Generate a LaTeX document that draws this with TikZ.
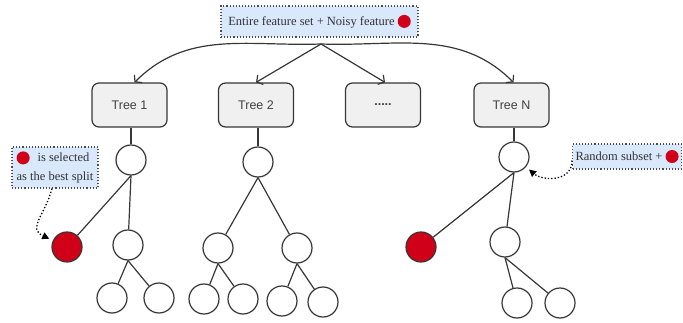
\documentclass[tikz,border=0pt]{standalone}
\usepackage{fontspec}
\setmainfont{Liberation Serif}
\newfontfamily\treefont{Liberation Sans}
\usetikzlibrary{arrows.meta}

\definecolor{dotred}{RGB}{208,0,24}
\definecolor{notefill}{RGB}{218,232,252}
\definecolor{boxfill}{RGB}{240,240,240}
\definecolor{linegray}{RGB}{55,55,55}

\newcommand{\rdot}{\tikz[baseline={(0,-4pt)}]\fill[dotred] (0,0) circle (6.5pt);}

\begin{document}
\begin{tikzpicture}[
  x=1pt, y=1pt,
  font=\fontsize{12.5}{19}\selectfont,
  note/.style={rectangle, draw=black!70, dotted, line width=1.1pt, fill=notefill, inner sep=3pt, text=black!80},
  treebox/.style={rectangle, draw=linegray, line width=1.2pt, rounded corners=7pt, fill=boxfill, minimum width=75pt, minimum height=44pt, font=\treefont\fontsize{12.5}{14}\selectfont, text=black!75},
  leaf/.style={circle, draw=linegray, line width=1.2pt, fill=white, minimum size=30pt, inner sep=0pt},
  best/.style={leaf, fill=dotred},
  edge/.style={draw=linegray, line width=1.2pt},
  arr/.style={edge, -{Straight Barb[length=4.5pt, width=11pt]}},
  darr/.style={black, dotted, line width=1.3pt, -{Triangle[length=7pt, width=7pt]}, shorten >=4pt}
]
  \useasboundingbox (0,0) rectangle (683,322);
  \clip (0,0) rectangle (683,322);

  % feature set and trees
  \node[note, minimum width=197pt, minimum height=31pt] (feat) at (319.5,300.5) {Entire feature set + Noisy feature \rdot};
  \coordinate (fork) at (321,278);
  \node[treebox] (tree1) at (129.5,217) {Tree 1};
  \node[treebox] (tree2) at (256,217) {Tree 2};
  \node[treebox] (treedots) at (383,217) {\textbf{.....}};
  \node[treebox] (treeN) at (511.5,217) {Tree N};
  \draw[arr] (fork) to[out=182, in=45] ([xshift=5pt]tree1.north);
  \draw[arr] (fork) -- (tree2.north);
  \draw[arr] (fork) -- ([xshift=2pt]treedots.north);
  \draw[arr] (fork) to[out=-2, in=135] ([xshift=2pt]treeN.north);

  % tree 1
  \node[leaf] (r1) at (131,162) {};
  \node[best] (b1) at (67,75) {};
  \node[leaf] (n1) at (128,77) {};
  \node[leaf] (n1a) at (112,24) {};
  \node[leaf] (n1b) at (159,24) {};
  \draw[edge] (r1.north) -- (r1.north |- tree1.south);
  \draw[edge] (r1.south) -- (b1);
  \draw[edge] (r1.south) -- (n1);
  \draw[edge] (n1.south) -- (n1a);
  \draw[edge] (n1.south) -- (n1b);

  % tree 2
  \node[leaf] (r2) at (258,160) {};
  \node[leaf] (n2l) at (218,74) {};
  \node[leaf] (n2r) at (297,74) {};
  \node[leaf] (n2la) at (204,23) {};
  \node[leaf] (n2lb) at (243,23) {};
  \node[leaf] (n2ra) at (282,21) {};
  \node[leaf] (n2rb) at (323,20) {};
  \draw[edge] (r2.north) -- (r2.north |- tree2.south);
  \draw[edge] (r2.south) -- (n2l);
  \draw[edge] (r2.south) -- (n2r);
  \draw[edge] (n2l.south) -- (n2la);
  \draw[edge] (n2l.south) -- (n2lb);
  \draw[edge] (n2r.south) -- (n2ra);
  \draw[edge] (n2r.south) -- (n2rb);

  % tree N
  \node[leaf] (rN) at (514,165) {};
  \node[best] (bN) at (421,75) {};
  \node[leaf] (nN) at (505,80) {};
  \node[leaf] (nNa) at (517,19) {};
  \node[leaf] (nNb) at (560,19) {};
  \draw[edge] (rN.north) -- (rN.north |- treeN.south);
  \draw[edge] (rN.south) -- (bN);
  \draw[edge] (rN.south) -- (nN);
  \draw[edge] (nN.south) -- (nNa);
  \draw[edge] (nN.south) -- (nNb);

  % notes
  \node[note, align=left, minimum width=86pt, minimum height=41pt] (sel) at (55,154.5) {\rdot\hspace{8pt}is selected\\as the best split};
  \node[note, anchor=west, minimum height=25pt] (rnd) at (572,165.5) {Random subset + \rdot};
  \draw[darr] ([xshift=-3pt]sel.south) to[out=-105, in=155, looseness=1.4] (b1);
  \draw[darr] ([yshift=-4pt]rnd.west) to[out=-90, in=-40, looseness=1.2] (rN);
\end{tikzpicture}
\end{document}
